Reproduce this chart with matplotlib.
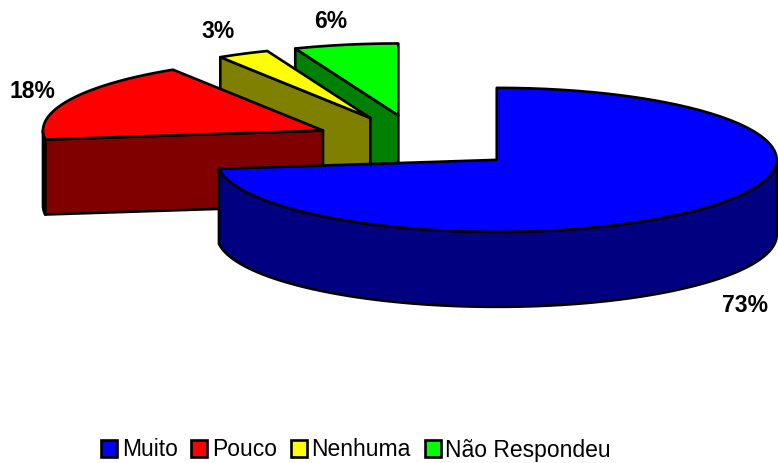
import numpy as np
import matplotlib.pyplot as plt
from matplotlib.patches import Polygon, Patch

plt.rcParams['font.family'] = ['Liberation Sans', 'DejaVu Sans']

labels = ["Muito", "Pouco", "Nenhuma", "Não Respondeu"]
values = [73, 18, 3, 6]
pct_labels = ["73%", "18%", "3%", "6%"]
top_colors = ["#0000FF", "#FF0000", "#FFFF00", "#00FF00"]
side_colors = ["#000080", "#800000", "#808000", "#008000"]

# layout of the 3d pie (pixel space)
cx, cy = 418, 142
rx, ry = 280, 72
depth = 75
explode = 105
label_pos = [(745, 306), (32, 91), (218, 32), (331, 22)]


def arc(ox, oy, a, b, n=80):
    th = np.linspace(a, b, n)
    return np.column_stack([ox + rx * np.sin(th), oy - ry * np.cos(th)])


def main():
    fig = plt.figure(figsize=(7.78, 4.63), dpi=100)
    ax = fig.add_axes([0, 0, 1, 1])
    ax.set_xlim(0, 778)
    ax.set_ylim(463, 0)
    ax.axis('off')

    total = float(sum(values))
    bounds = np.concatenate([[0], np.cumsum(values)]) / total * 2 * np.pi

    slices = []
    for i in range(len(values)):
        a, b = bounds[i], bounds[i + 1]
        m = (a + b) / 2
        ox = cx + explode * np.sin(m)
        oy = cy - explode * (ry / rx) * np.cos(m)
        slices.append((oy, i, a, b, ox))
    slices.sort()

    z = 1
    kw = dict(edgecolor='black', linewidth=1.9, joinstyle='round')
    for oy, i, a, b, ox in slices:
        dark = side_colors[i]
        # radial walls facing the viewer
        for edge, visible in ((a, np.sin(a) < -1e-6), (b, np.sin(b) > 1e-6)):
            if visible:
                rp = (ox + rx * np.sin(edge), oy - ry * np.cos(edge))
                poly = [(ox, oy), rp, (rp[0], rp[1] + depth), (ox, oy + depth)]
                ax.add_patch(Polygon(poly, closed=True, facecolor=dark, zorder=z, **kw))
                z += 1
        # front part of the rim
        lo, hi = max(a, np.pi / 2), min(b, 3 * np.pi / 2)
        if hi > lo:
            top = arc(ox, oy, lo, hi)
            bot = top[::-1] + np.array([0, depth])
            ax.add_patch(Polygon(np.vstack([top, bot]), closed=True,
                                 facecolor=dark, zorder=z, **kw))
            z += 1
        # top face
        face = np.vstack([[ox, oy], arc(ox, oy, a, b)])
        ax.add_patch(Polygon(face, closed=True, facecolor=top_colors[i], zorder=z, **kw))
        z += 1

    for (x, y), t in zip(label_pos, pct_labels):
        ax.text(x, y, t, ha='center', va='center', fontsize=16.5,
                fontweight='bold', zorder=z)

    handles = [Patch(facecolor=c, edgecolor='black', linewidth=1.9) for c in top_colors]
    fig.legend(handles, labels, ncol=4, loc='center',
               bbox_to_anchor=(356 / 778, 1 - 450 / 463), frameon=False,
               fontsize=16.5, handlelength=0.7, handleheight=0.7,
               handletextpad=0.2, columnspacing=0.6, borderpad=0)

    fig.savefig('out.png', dpi=100)


if __name__ == "__main__":
    main()
